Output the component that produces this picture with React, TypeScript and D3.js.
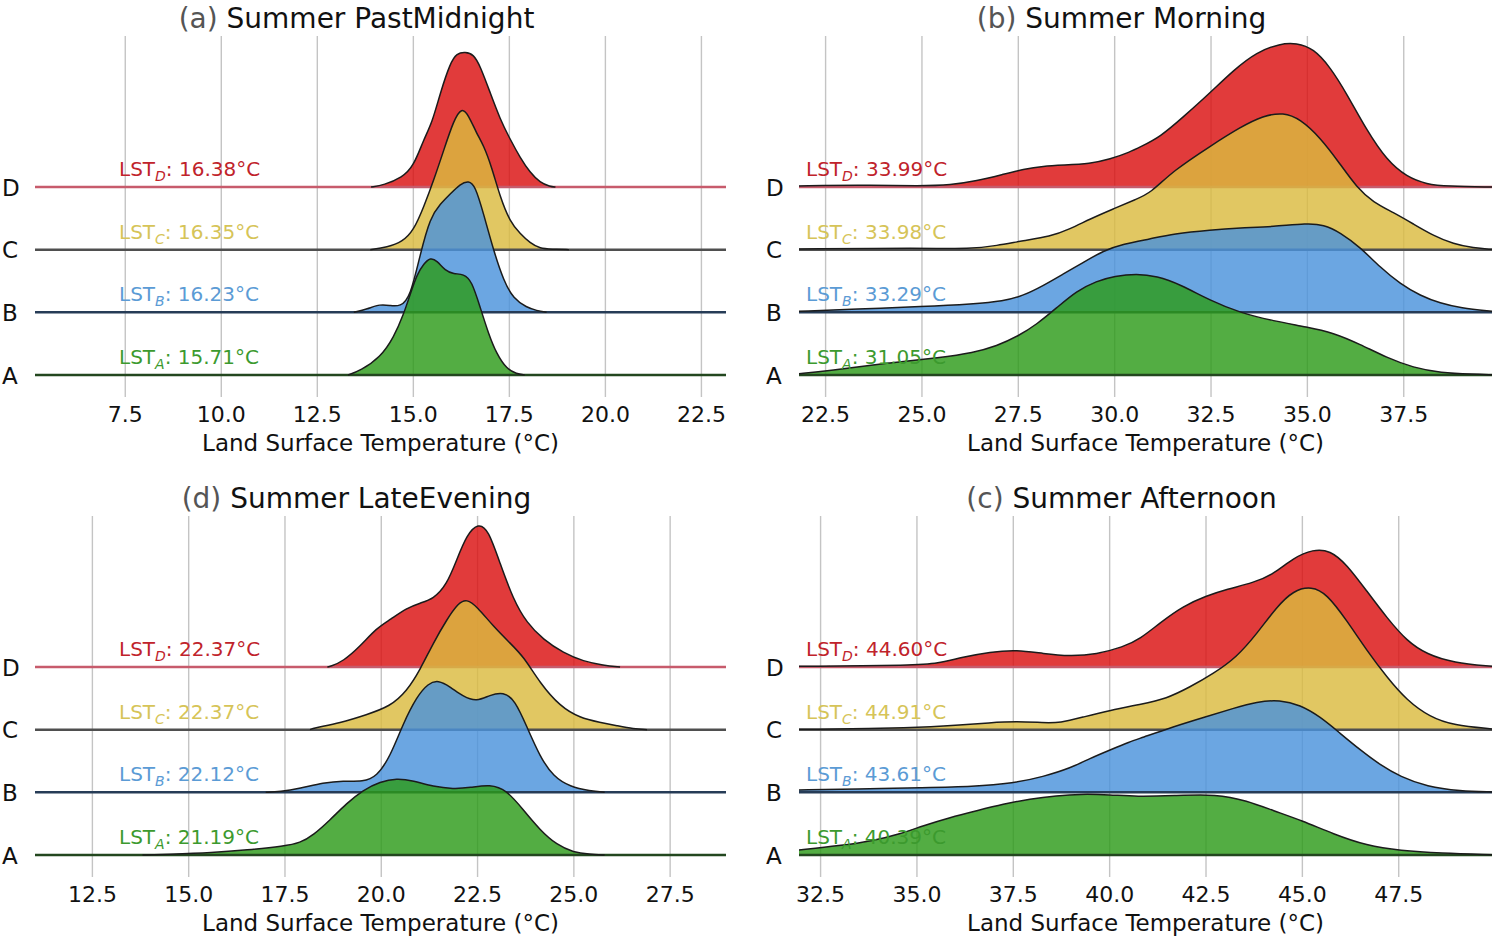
import React from 'react';
import * as d3 from 'd3';

// Ridge groups, drawn back (D) to front (A)
const groups = ['A', 'B', 'C', 'D'];
const fillColors = ['#2d9b1a', '#4a92dc', '#dbbb3f', '#da1010'];
const baseColors = ['#23471f', '#263c57', '#4f4f4f', '#c75b6c'];
const labelColors = ['#3c9a2e', '#5b9bd5', '#d6c458', '#c0232b'];

// Kernel density samples: [temperature °C, scaled density]
const pastMidnightA: [number, number][] = [[13.3,0],[13.62,0.043],[14.14,0.176],[14.49,0.376],[14.75,0.61],[14.92,0.81],[15.1,1.01],[15.27,1.11],[15.44,1.176],[15.62,1.143],[15.83,1.043],[16.05,1.01],[16.31,1.01],[16.52,0.943],[16.74,0.676],[16.96,0.41],[17.17,0.21],[17.43,0.06],[17.69,0.01],[17.9,0]];
const pastMidnightB: [number, number][] = [[13.45,0],[13.8,0.033],[14.14,0.083],[14.4,0.067],[14.66,0.057],[14.92,0.15],[15.18,0.583],[15.44,0.95],[15.7,1.083],[15.96,1.183],[16.22,1.283],[16.44,1.317],[16.61,1.267],[16.83,0.983],[17.09,0.617],[17.35,0.317],[17.61,0.133],[17.95,0.05],[18.21,0.017],[18.47,0]];
const pastMidnightC: [number, number][] = [[13.88,0],[14.32,0.026],[14.71,0.076],[15.01,0.193],[15.27,0.426],[15.53,0.693],[15.79,0.993],[16.05,1.293],[16.26,1.426],[16.44,1.343],[16.65,1.16],[16.83,1.043],[17.04,0.826],[17.26,0.526],[17.52,0.276],[17.78,0.16],[18.04,0.066],[18.3,0.01],[18.6,0.005],[19.05,0]];
const pastMidnightD: [number, number][] = [[13.9,0],[14.23,0.02],[14.71,0.094],[15.01,0.21],[15.27,0.477],[15.49,0.644],[15.7,0.94],[15.96,1.24],[16.13,1.337],[16.35,1.35],[16.57,1.327],[16.74,1.21],[17.0,0.944],[17.26,0.677],[17.52,0.477],[17.78,0.294],[18.04,0.144],[18.3,0.044],[18.56,0.005],[18.7,0]];

const morningA: [number, number][] = [[21.81,0.013],[22.87,0.057],[24.17,0.123],[25.47,0.173],[26.33,0.223],[26.94,0.29],[27.5,0.39],[27.98,0.507],[28.5,0.673],[29.01,0.84],[29.53,0.94],[30.0,0.99],[30.57,1.013],[31.09,0.99],[31.7,0.907],[32.5,0.74],[33.25,0.623],[34.12,0.54],[35.0,0.48],[35.67,0.423],[36.37,0.307],[37.06,0.173],[37.75,0.073],[38.45,0.023],[39.31,0.007],[39.79,0.003]];
const morningB: [number, number][] = [[21.81,0.01],[23.3,0.033],[25.03,0.057],[26.33,0.083],[27.11,0.11],[27.63,0.167],[28.15,0.267],[28.67,0.384],[29.19,0.5],[29.71,0.617],[30.22,0.684],[30.92,0.734],[31.52,0.784],[32.5,0.824],[33.25,0.844],[34.12,0.857],[35.0,0.89],[35.42,0.877],[35.85,0.8],[36.37,0.65],[36.89,0.45],[37.41,0.284],[37.93,0.167],[38.45,0.09],[38.97,0.044],[39.79,0.01]];
const morningC: [number, number][] = [[21.81,0.007],[25.03,0.017],[26.25,0.007],[26.94,0.04],[27.63,0.09],[28.32,0.13],[28.84,0.207],[29.36,0.307],[29.96,0.407],[30.57,0.507],[30.92,0.563],[31.52,0.79],[32.5,1.04],[33.25,1.223],[33.86,1.34],[34.38,1.373],[34.81,1.307],[35.33,1.123],[35.85,0.857],[36.28,0.623],[36.71,0.473],[37.23,0.373],[37.75,0.257],[38.27,0.14],[38.79,0.057],[39.31,0.017],[39.79,0.003]];
const morningD: [number, number][] = [[21.81,0.01],[23.3,0.02],[25.03,0.01],[25.73,0.02],[26.42,0.06],[27.11,0.127],[27.63,0.177],[28.15,0.21],[28.67,0.22],[29.36,0.233],[29.88,0.277],[30.4,0.35],[30.66,0.4],[31.18,0.5],[31.78,0.7],[32.5,0.95],[33.08,1.167],[33.69,1.35],[34.29,1.434],[34.72,1.44],[35.16,1.384],[35.59,1.2],[36.02,0.934],[36.54,0.567],[37.06,0.267],[37.58,0.1],[38.1,0.027],[38.62,0.007],[39.79,0]];

const lateEveningA: [number, number][] = [[13.8,0],[14.41,0.007],[15.64,0.023],[16.5,0.05],[17.49,0.09],[17.89,0.12],[18.24,0.2],[18.67,0.35],[19.1,0.517],[19.53,0.65],[19.97,0.733],[20.4,0.767],[20.83,0.743],[21.35,0.683],[21.87,0.66],[22.31,0.673],[22.82,0.707],[23.26,0.65],[23.69,0.45],[24.12,0.25],[24.56,0.1],[24.99,0.027],[25.4,0.007],[25.8,0]];
const lateEveningB: [number, number][] = [[17.0,0],[17.37,0.007],[17.89,0.04],[18.5,0.096],[19.01,0.116],[19.53,0.106],[19.88,0.156],[20.23,0.356],[20.57,0.69],[20.92,0.956],[21.22,1.09],[21.48,1.123],[21.79,1.056],[22.13,0.956],[22.48,0.906],[22.82,0.973],[23.17,1.006],[23.47,0.923],[23.78,0.656],[24.12,0.356],[24.47,0.156],[24.9,0.056],[25.42,0.013],[25.8,0]];
const lateEveningC: [number, number][] = [[18.15,0],[18.24,0.017],[18.93,0.067],[19.62,0.15],[20.23,0.233],[20.66,0.383],[21.01,0.6],[21.35,0.867],[21.7,1.1],[22.0,1.267],[22.22,1.307],[22.48,1.233],[22.91,1.033],[23.34,0.867],[23.69,0.733],[24.12,0.467],[24.64,0.233],[25.16,0.117],[25.68,0.073],[26.12,0.04],[26.55,0.007],[26.9,0]];
const lateEveningD: [number, number][] = [[18.6,0],[18.67,0.005],[19.01,0.056],[19.45,0.206],[19.88,0.39],[20.23,0.473],[20.66,0.59],[21.01,0.64],[21.35,0.68],[21.7,0.823],[21.96,1.073],[22.22,1.323],[22.52,1.44],[22.78,1.373],[23.08,1.04],[23.43,0.673],[23.78,0.44],[24.21,0.273],[24.73,0.14],[25.25,0.056],[25.77,0.017],[26.2,0]];

const afternoonA: [number, number][] = [[31.94,0.05],[33.0,0.093],[33.87,0.143],[34.56,0.21],[35.16,0.293],[35.86,0.376],[36.55,0.443],[37.24,0.51],[37.93,0.56],[38.63,0.593],[39.23,0.61],[40.01,0.603],[40.7,0.583],[41.65,0.593],[42.78,0.61],[43.56,0.543],[44.25,0.443],[45.0,0.343],[45.8,0.21],[46.67,0.093],[47.54,0.043],[48.58,0.017],[49.92,0.003]];
const afternoonB: [number, number][] = [[31.94,0.023],[33.43,0.033],[35.16,0.047],[36.46,0.057],[37.5,0.09],[38.28,0.157],[38.97,0.24],[39.49,0.34],[40.01,0.424],[40.53,0.507],[40.79,0.54],[41.65,0.657],[42.5,0.757],[43.21,0.84],[43.82,0.907],[44.42,0.924],[44.94,0.874],[45.46,0.757],[45.98,0.59],[46.5,0.424],[47.02,0.274],[47.54,0.157],[48.23,0.057],[49.09,0.013],[49.92,0.003]];
const afternoonC: [number, number][] = [[31.94,0.003],[34.99,0.017],[36.03,0.043],[36.89,0.07],[37.59,0.083],[38.28,0.07],[38.71,0.067],[39.32,0.127],[40.01,0.193],[40.79,0.253],[41.48,0.31],[42.08,0.426],[42.69,0.56],[43.3,0.726],[43.82,0.96],[44.33,1.226],[44.77,1.393],[45.24,1.433],[45.63,1.36],[46.15,1.093],[46.67,0.793],[47.19,0.526],[47.71,0.293],[48.31,0.126],[48.92,0.043],[49.92,0.007]];
const afternoonD: [number, number][] = [[31.94,0.007],[34.99,0.017],[35.51,0.033],[36.2,0.1],[36.89,0.15],[37.59,0.173],[38.28,0.133],[38.97,0.107],[39.66,0.127],[40.35,0.2],[40.79,0.28],[41.31,0.443],[41.91,0.61],[42.5,0.71],[43.04,0.777],[43.73,0.843],[44.25,0.927],[44.77,1.093],[45.28,1.177],[45.72,1.167],[46.15,1.027],[46.67,0.76],[47.19,0.493],[47.71,0.26],[48.23,0.127],[48.92,0.043],[49.92,0.007]];

// Mean land surface temperature per group (A, B, C, D)
const meansPastMidnight = [15.71, 16.23, 16.35, 16.38];
const meansMorning = [31.05, 33.29, 33.98, 33.99];
const meansLateEvening = [21.19, 22.12, 22.37, 22.37];
const meansAfternoon = [40.39, 43.61, 44.91, 44.60];

// Temperature extents and tick values per panel
const domainPastMidnight = [5.15, 23.14];
const domainMorning = [21.81, 39.79];
const domainLateEvening = [11.01, 28.95];
const domainAfternoon = [31.94, 49.92];
const ticksPastMidnight = [7.5, 10, 12.5, 15, 17.5, 20, 22.5];
const ticksMorning = [22.5, 25, 27.5, 30, 32.5, 35, 37.5];
const ticksLateEvening = [12.5, 15, 17.5, 20, 22.5, 25, 27.5];
const ticksAfternoon = [32.5, 35, 37.5, 40, 42.5, 45, 47.5];

const panels = [
  { tag: '(a)', title: 'Summer PastMidnight', domain: domainPastMidnight, ticks: ticksPastMidnight, series: [pastMidnightA, pastMidnightB, pastMidnightC, pastMidnightD], means: meansPastMidnight, col: 0, row: 0 },
  { tag: '(b)', title: 'Summer Morning', domain: domainMorning, ticks: ticksMorning, series: [morningA, morningB, morningC, morningD], means: meansMorning, col: 1, row: 0 },
  { tag: '(d)', title: 'Summer LateEvening', domain: domainLateEvening, ticks: ticksLateEvening, series: [lateEveningA, lateEveningB, lateEveningC, lateEveningD], means: meansLateEvening, col: 0, row: 1 },
  { tag: '(c)', title: 'Summer Afternoon', domain: domainAfternoon, ticks: ticksAfternoon, series: [afternoonA, afternoonB, afternoonC, afternoonD], means: meansAfternoon, col: 1, row: 1 },
];

const FONT = "'DejaVu Sans', sans-serif";
const fmtTick = d3.format('.1f');
const fmtMean = d3.format('.2f');

function Panel({ p }: { p: typeof panels[number] }) {
  const left = p.col === 0 ? 35 : 799;
  const right = p.col === 0 ? 726 : 1492;
  const labelX = p.col === 0 ? 119 : 806;
  const x = d3.scaleLinear().domain(p.domain).range([left, right]);
  const ridge = d3.scalePoint<string>().domain(groups).range([375, 187]);
  const dens = d3.scaleLinear().domain([0, 1]).range([0, 100]);
  const cx = (left + right) / 2;
  const order = [3, 2, 1, 0];

  return (
    <g transform={`translate(0, ${p.row * 480})`}>
      {p.ticks.map((t) => (
        <line key={'g' + t} x1={x(t)} x2={x(t)} y1={36} y2={397} stroke="#c4c4c4" strokeWidth={1.4} />
      ))}
      {order.map((i) => {
        const base = ridge(groups[i]) as number;
        const area = d3.area<[number, number]>()
          .x((d) => x(d[0]))
          .y0(base)
          .y1((d) => base - dens(d[1]))
          .curve(d3.curveBasis);
        const line = d3.line<[number, number]>()
          .x((d) => x(d[0]))
          .y((d) => base - dens(d[1]))
          .curve(d3.curveBasis);
        return (
          <g key={groups[i]}>
            <path d={area(p.series[i]) || ''} fill={fillColors[i]} fillOpacity={0.82} />
            <line x1={left} x2={right} y1={base} y2={base} stroke={baseColors[i]} strokeWidth={2.5} />
            <path d={line(p.series[i]) || ''} fill="none" stroke="#1b1b1b" strokeWidth={1.5} />
          </g>
        );
      })}
      {groups.map((g, i) => {
        const base = ridge(g) as number;
        return (
          <g key={'lab' + g}>
            <text x={left - 33} y={base + 8.5} fontSize={23} fill="#111" fontFamily={FONT}>{g}</text>
            <text x={labelX} y={base - 11} fontSize={20} fill={labelColors[i]} fontFamily={FONT}>
              LST<tspan fontSize={14} fontStyle="italic" dy={5}>{g}</tspan>
              <tspan dy={-5}>: {fmtMean(p.means[i])}°C</tspan>
            </text>
          </g>
        );
      })}
      {p.ticks.map((t) => (
        <text key={'t' + t} x={x(t)} y={421.5} textAnchor="middle" fontSize={22} fill="#111" fontFamily={FONT}>{fmtTick(t)}</text>
      ))}
      <text x={cx} y={451} textAnchor="middle" fontSize={23} fill="#111" fontFamily={FONT}>Land Surface Temperature (°C)</text>
      <text x={cx - 24} y={28} textAnchor="middle" fontSize={28} fontFamily={FONT}>
        <tspan fill="#555">{p.tag}</tspan>
        <tspan fill="#111"> {p.title}</tspan>
      </text>
    </g>
  );
}

export default function App() {
  return (
    <div style={{ position: 'absolute', left: 0, top: 0 }}>
      <svg width={1500} height={941} viewBox="0 0 1500 941" style={{ display: 'block', background: '#fff' }}>
        <rect width={1500} height={941} fill="#fff" />
        {panels.map((p) => (
          <Panel key={p.tag} p={p} />
        ))}
      </svg>
    </div>
  );
}
